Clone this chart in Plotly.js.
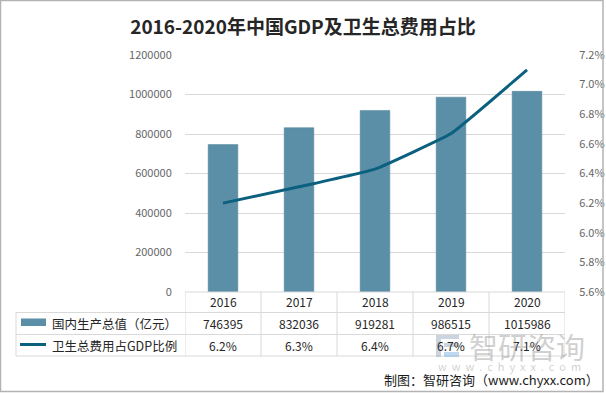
<!DOCTYPE html>
<html>
<head>
<meta charset="utf-8">
<script src="https://cdn.plot.ly/plotly-3.0.1.min.js"></script>
<style>html,body{margin:0;padding:0;background:#fff;}#chart{width:606px;height:393px;}</style>
</head>
<body>
<div id="chart"></div>
<script>
const years = ['2016', '2017', '2018', '2019', '2020'];
const gdp = [746395, 832036, 919281, 986515, 1015986];
const healthShare = [0.0620, 0.0631, 0.0643, 0.0667, 0.0710];
const gdpName = '国内生产总值（亿元）';
const shareName = '卫生总费用占GDP比例';

const W = 606, H = 393, L = 185, R = 41, T = 55, B = 101;
const pw = W - L - R, ph = H - T - B;
const px = x => (x - L) / pw;
const py = y => (H - B - y) / ph;
const FONT = 'Noto Sans CJK SC, Noto Sans, sans-serif';
const barColor = '#5b8fa7';
const lineColor = '#0b607f';
const gridColor = '#d9d9d9';

const shapes = [];
function hline(x0, x1, y) {
  shapes.push({type: 'line', xref: 'paper', yref: 'paper', x0: px(x0), x1: px(x1), y0: py(y), y1: py(y), line: {color: gridColor, width: 1}});
}
hline(185, 565, 292);
hline(16, 565, 312.5);
hline(16, 565, 334.5);
hline(16, 565, 356);
shapes.push({type: 'line', xref: 'paper', yref: 'paper', x0: px(16), x1: px(16), y0: py(312.5), y1: py(356), line: {color: gridColor, width: 1}});
for (let i = 0; i <= years.length; i++) {
  shapes.push({type: 'line', xref: 'x', yref: 'paper', x0: i - 0.5, x1: i - 0.5, y0: py(292), y1: py(356), line: {color: gridColor, width: 1}});
}
// legend swatches
shapes.push({type: 'rect', xref: 'paper', yref: 'paper', x0: px(21), x1: px(46), y0: py(318.5), y1: py(326), fillcolor: barColor, line: {width: 0}});
shapes.push({type: 'line', xref: 'paper', yref: 'paper', x0: px(20), x1: px(46), y0: py(344.5), y1: py(344.5), line: {color: lineColor, width: 3}});
// outer frame
shapes.push({type: 'rect', xref: 'paper', yref: 'paper', x0: px(0.5), x1: px(603), y0: py(0.5), y1: py(391.5), line: {color: '#b3b3b3', width: 1.5}});
// watermark logo
shapes.push({type: 'rect', xref: 'paper', yref: 'paper', x0: px(436), x1: px(459), y0: py(335), y1: py(339), fillcolor: 'rgba(140,160,185,0.45)', line: {width: 0}});
shapes.push({type: 'rect', xref: 'paper', yref: 'paper', x0: px(436), x1: px(441), y0: py(339), y1: py(357), fillcolor: 'rgba(140,160,185,0.45)', line: {width: 0}});
shapes.push({type: 'rect', xref: 'paper', yref: 'paper', x0: px(444), x1: px(459), y0: py(343), y1: py(347), fillcolor: 'rgba(140,160,185,0.45)', line: {width: 0}});
shapes.push({type: 'rect', xref: 'paper', yref: 'paper', x0: px(444), x1: px(459), y0: py(352), y1: py(357), fillcolor: 'rgba(110,170,220,0.45)', line: {width: 0}});

const annotations = [];
years.forEach((yr, i) => {
  annotations.push({xref: 'x', yref: 'paper', x: i, y: py(301.5), text: yr, showarrow: false, font: {family: FONT, size: 12, color: '#262626'}, xanchor: 'center', yanchor: 'middle'});
  annotations.push({xref: 'x', yref: 'paper', x: i, y: py(323.5), text: String(gdp[i]), showarrow: false, font: {family: FONT, size: 12, color: '#262626'}, xanchor: 'center', yanchor: 'middle'});
  annotations.push({xref: 'x', yref: 'paper', x: i, y: py(345.5), text: (healthShare[i] * 100).toFixed(1) + '%', showarrow: false, font: {family: FONT, size: 12, color: '#262626'}, xanchor: 'center', yanchor: 'middle'});
});
annotations.push({xref: 'paper', yref: 'paper', x: px(50), y: py(323), text: gdpName, showarrow: false, xanchor: 'left', yanchor: 'middle', font: {family: FONT, size: 12.5, color: '#262626'}});
annotations.push({xref: 'paper', yref: 'paper', x: px(50), y: py(345), text: shareName, showarrow: false, xanchor: 'left', yanchor: 'middle', font: {family: FONT, size: 12.5, color: '#262626'}});
// watermark text
annotations.push({xref: 'paper', yref: 'paper', x: px(467), y: py(346), text: '智研咨询', showarrow: false, xanchor: 'left', yanchor: 'middle', font: {family: FONT, size: 29, color: 'rgba(140,140,140,0.42)'}});
annotations.push({xref: 'paper', yref: 'paper', x: px(509), y: py(366), text: 'w  w  w  .  c  h  y  x  x  .  c  o  m', showarrow: false, xanchor: 'center', yanchor: 'middle', font: {family: FONT, size: 11, color: 'rgba(150,150,150,0.45)'}});
// source
annotations.push({xref: 'paper', yref: 'paper', x: px(601), y: py(379), text: '制图：智研咨询（www.chyxx.com）', showarrow: false, xanchor: 'right', yanchor: 'middle', font: {family: FONT, size: 13, color: '#1a1a1a'}});

const data = [
  {type: 'bar', name: gdpName, x: years, y: gdp, width: 0.39, marker: {color: barColor, line: {color: '#4f8199', width: 0.5}}},
  {type: 'scatter', mode: 'lines', name: shareName, x: years, y: healthShare, yaxis: 'y2', line: {color: lineColor, width: 3, shape: 'spline', smoothing: 0.3}}
];

const layout = {
  width: W, height: H,
  margin: {l: L, r: R, t: T, b: B, pad: 0},
  paper_bgcolor: '#ffffff', plot_bgcolor: '#ffffff',
  showlegend: false,
  title: {text: '<b>2016-2020年中国GDP及卫生总费用占比</b>', font: {family: FONT, size: 19, color: '#262626'}, x: 0.5, xref: 'container', xanchor: 'center', y: 1 - 27 / H, yref: 'container', yanchor: 'middle'},
  xaxis: {type: 'category', range: [-0.5, years.length - 0.5], showgrid: false, zeroline: false, showline: false, showticklabels: false, ticks: ''},
  yaxis: {range: [0, 1200000], dtick: 200000, tickformat: 'd', showgrid: true, gridcolor: gridColor, gridwidth: 1, zeroline: false, showline: false, ticks: 'outside', ticklen: 10, tickcolor: 'rgba(0,0,0,0)', tickfont: {family: FONT, size: 11, color: '#666666'}},
  yaxis2: {overlaying: 'y', side: 'right', range: [0.056, 0.072], dtick: 0.002, tickformat: '.1%', showgrid: false, zeroline: false, showline: false, ticks: 'outside', ticklen: 11, tickcolor: 'rgba(0,0,0,0)', tickfont: {family: FONT, size: 11, color: '#666666'}},
  shapes: shapes,
  annotations: annotations
};

Plotly.newPlot('chart', data, layout, {displayModeBar: false, staticPlot: true});
</script>
</body>
</html>
